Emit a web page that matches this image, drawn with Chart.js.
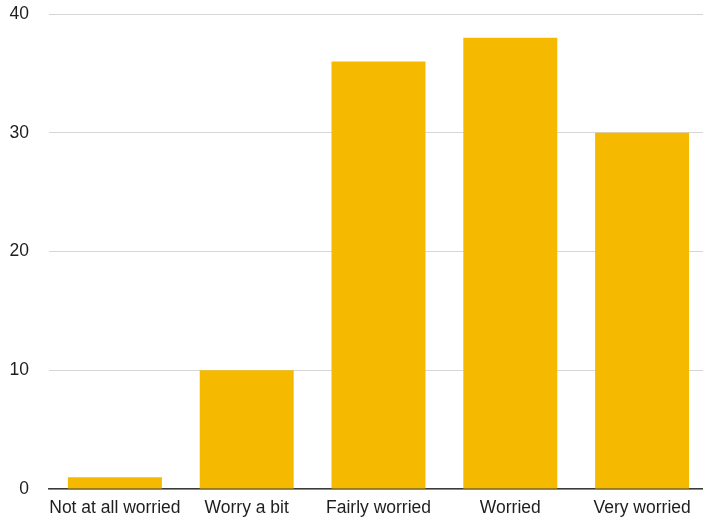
<!DOCTYPE html>
<html>
<head>
<meta charset="utf-8">
<script src="https://cdn.jsdelivr.net/npm/chart.js@4/dist/chart.umd.min.js"></script>
<style>
  html, body { margin: 0; padding: 0; background: #ffffff; overflow: hidden; }
  #wrap { width: 708px; height: 522px; position: relative; }
</style>
</head>
<body>
<div id="wrap"><canvas id="chart"></canvas></div>
<script>
// Worry levels and respondent counts
const categories = ['Not at all worried', 'Worry a bit', 'Fairly worried', 'Worried', 'Very worried'];
const counts = [1, 10, 36, 38, 30];
const yTicks = [0, 10, 20, 30, 40];

const barColor = '#F5B900';
const textColor = '#1e1e1e';

new Chart(document.getElementById('chart'), {
  type: 'bar',
  data: {
    labels: categories,
    datasets: [{
      data: counts,
      backgroundColor: barColor,
      borderWidth: 0,
      categoryPercentage: 0.713,
      barPercentage: 1.0
    }]
  },
  options: {
    responsive: true,
    maintainAspectRatio: false,
    animation: false,
    layout: { padding: { top: 14, right: 0, left: 0, bottom: 0 } },
    plugins: {
      legend: { display: false },
      tooltip: { enabled: false }
    },
    scales: {
      x: {
        grid: { display: false, drawTicks: false },
        border: { display: true, color: '#3a3a3a', width: 1.5 },
        ticks: {
          color: textColor,
          font: { family: 'Liberation Sans', size: 17.5 },
          padding: 9,
          maxRotation: 0,
          autoSkip: false
        },
        afterFit(scale) { scale.height = 33; scale.paddingLeft = 0; scale.paddingRight = 0; }
      },
      y: {
        min: 0,
        max: 40,
        afterBuildTicks(scale) { scale.ticks = yTicks.map(v => ({ value: v })); },
        grid: { color: '#d6d6d6', lineWidth: 1, drawTicks: false },
        border: { display: false },
        ticks: {
          color: textColor,
          font: { family: 'Liberation Sans', size: 17.5 },
          padding: 20
        },
        afterFit(scale) { scale.width = 49; scale.paddingTop = 0; scale.paddingBottom = 0; }
      }
    }
  }
});
</script>
</body>
</html>
